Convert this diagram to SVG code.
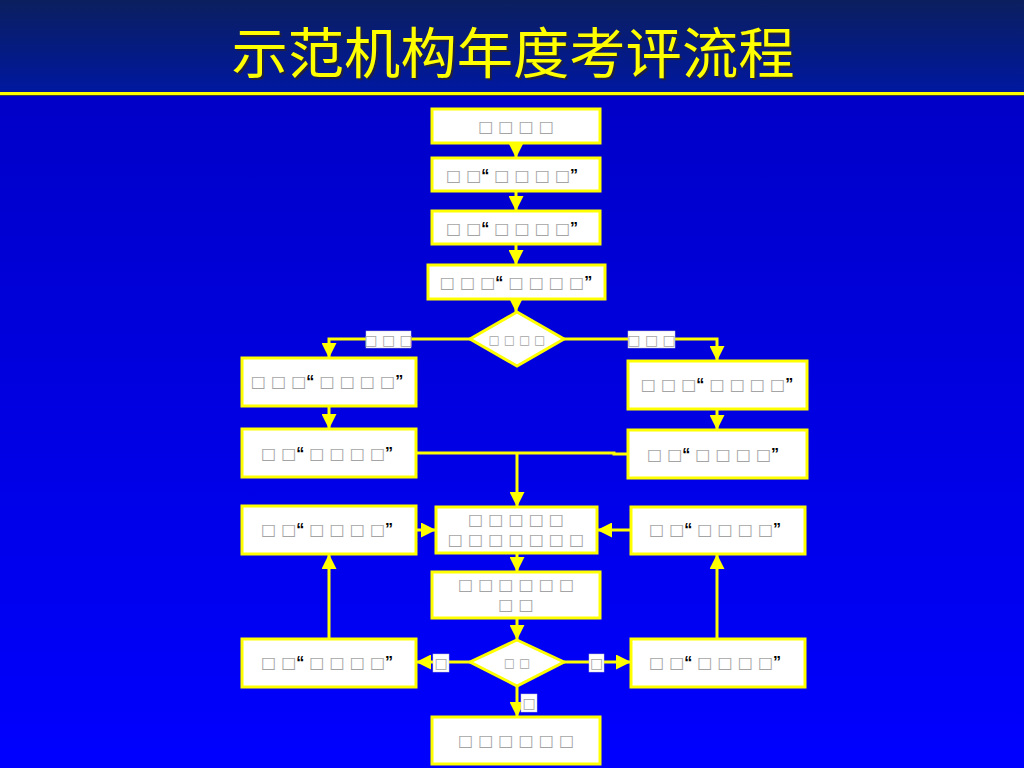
<svg xmlns="http://www.w3.org/2000/svg" width="1024" height="768" viewBox="0 0 1024 768">
<defs>
<linearGradient id="topbg" x1="0" y1="0" x2="0" y2="1">
<stop offset="0" stop-color="#0b1f5e"/>
<stop offset="1" stop-color="#0018a0"/>
</linearGradient>
<linearGradient id="mainbg" x1="0" y1="0" x2="0" y2="1">
<stop offset="0" stop-color="#0000c0"/>
<stop offset="1" stop-color="#0000ff"/>
</linearGradient>
<marker id="ah" markerUnits="userSpaceOnUse" markerWidth="15" markerHeight="15" refX="15" refY="7.5" orient="auto">
<path d="M0,0 L15,7.5 L0,15 z" fill="#ffff00"/>
</marker>
<style>
.box{fill:#ffffff;stroke:#ffff00;stroke-width:3}
.dia{fill:#ffffff;stroke:#ffff00;stroke-width:3}
.lbl{fill:#ffffff;stroke:#c8c8c8;stroke-width:0.5}
.t{font-family:"DejaVu Sans",sans-serif;font-size:16px;fill:#a4a4a4;text-anchor:middle}
.ts{font-family:"DejaVu Sans",sans-serif;font-size:12px;fill:#a4a4a4;text-anchor:middle}
.q{font-family:"Liberation Sans",sans-serif;font-weight:bold;fill:#000000}
.c{fill:none;stroke:#ffff00;stroke-width:3}
.title{font-family:"Noto Sans CJK SC",sans-serif;font-size:55px;fill:#ffff00;text-anchor:middle}
</style>
</defs>
<rect x="0" y="0" width="1024" height="768" fill="url(#mainbg)"/>
<rect x="0" y="0" width="1024" height="92" fill="url(#topbg)"/>
<rect x="0" y="92" width="1024" height="3" fill="#ffff00"/>
<rect x="0" y="95" width="1024" height="1" fill="#404040"/>
<g id="title">
<text class="title" x="515" y="75" style="fill:#202040" textLength="563" lengthAdjust="spacingAndGlyphs">示范机构年度考评流程</text>
<text class="title" x="513" y="73" textLength="563" lengthAdjust="spacingAndGlyphs">示范机构年度考评流程</text>
</g>

<g id="connectors">
<line class="c" x1="516" y1="143" x2="516" y2="158" marker-end="url(#ah)"/>
<line class="c" x1="516" y1="191" x2="516" y2="211" marker-end="url(#ah)"/>
<line class="c" x1="516" y1="244" x2="516" y2="265" marker-end="url(#ah)"/>
<line class="c" x1="516" y1="299" x2="516" y2="312" marker-end="url(#ah)"/>
<polyline class="c" points="470,339 329,339 329,358" marker-end="url(#ah)"/>
<polyline class="c" points="564,339 717,339 717,361" marker-end="url(#ah)"/>
<line class="c" x1="329" y1="406" x2="329" y2="429" marker-end="url(#ah)"/>
<line class="c" x1="717" y1="409" x2="717" y2="430" marker-end="url(#ah)"/>
<polyline class="c" points="416,453 614,453 614,454 628,454"/>
<line class="c" x1="517" y1="453" x2="517" y2="507" marker-end="url(#ah)"/>
<line class="c" x1="416" y1="530" x2="436" y2="530" marker-end="url(#ah)"/>
<line class="c" x1="631" y1="530" x2="597" y2="530" marker-end="url(#ah)"/>
<line class="c" x1="517" y1="553" x2="517" y2="572" marker-end="url(#ah)"/>
<line class="c" x1="517" y1="618" x2="517" y2="640" marker-end="url(#ah)"/>
<line class="c" x1="470" y1="662" x2="416" y2="662" marker-end="url(#ah)"/>
<line class="c" x1="564" y1="662" x2="631" y2="662" marker-end="url(#ah)"/>
<line class="c" x1="517" y1="686" x2="517" y2="717" marker-end="url(#ah)"/>
<line class="c" x1="329" y1="639" x2="329" y2="554" marker-end="url(#ah)"/>
<line class="c" x1="717" y1="639" x2="717" y2="554" marker-end="url(#ah)"/>
<g id="labels">
<rect class="lbl" x="366" y="331" width="45" height="17"/>
<text class="t" x="388.5" y="345" style="font-size:14px">□ □ □</text>
<rect class="lbl" x="628" y="331" width="47" height="17"/>
<text class="t" x="651.5" y="345" style="font-size:14px">□ □ □</text>
<rect class="lbl" x="433" y="654" width="16" height="18"/>
<text class="t" x="441" y="668" style="font-size:14px">□</text>
<rect class="lbl" x="589" y="654" width="15" height="18"/>
<text class="t" x="596.5" y="668" style="font-size:14px">□</text>
<rect class="lbl" x="521" y="694" width="16" height="18"/>
<text class="t" x="529" y="708" style="font-size:14px">□</text>
</g>
</g>

<g id="n1"><rect class="box" x="432" y="109" width="168" height="34"/><text class="t" x="516" y="132">□ □ □ □</text></g>
<g id="n2"><rect class="box" x="432" y="158" width="168" height="33"/><text class="t" x="512" y="181">□ □<tspan class="q">“</tspan> □ □ □ □<tspan class="q">”</tspan></text></g>
<g id="n3"><rect class="box" x="432" y="211" width="168" height="33"/><text class="t" x="512" y="234">□ □<tspan class="q">“</tspan> □ □ □ □<tspan class="q">”</tspan></text></g>
<g id="n4"><rect class="box" x="428" y="265" width="177" height="34"/><text class="t" x="516" y="288">□ □ □<tspan class="q">“</tspan> □ □ □ □<tspan class="q">”</tspan></text></g>
<g id="d1"><polygon class="dia" points="517,312 564,339 517,366 470,339"/><text class="ts" x="517" y="344">□ □ □ □</text></g>
<g id="la"><rect class="box" x="242" y="358" width="174" height="48"/><text class="t" x="327" y="387">□ □ □<tspan class="q">“</tspan> □ □ □ □<tspan class="q">”</tspan></text></g>
<g id="ra"><rect class="box" x="628" y="361" width="179" height="48"/><text class="t" x="717" y="390">□ □ □<tspan class="q">“</tspan> □ □ □ □<tspan class="q">”</tspan></text></g>
<g id="lb"><rect class="box" x="242" y="429" width="174" height="48"/><text class="t" x="327" y="459">□ □<tspan class="q">“</tspan> □ □ □ □<tspan class="q">”</tspan></text></g>
<g id="rb"><rect class="box" x="628" y="430" width="179" height="48"/><text class="t" x="713" y="460">□ □<tspan class="q">“</tspan> □ □ □ □<tspan class="q">”</tspan></text></g>
<g id="lc"><rect class="box" x="242" y="506" width="174" height="48"/><text class="t" x="327" y="535">□ □<tspan class="q">“</tspan> □ □ □ □<tspan class="q">”</tspan></text></g>
<g id="cc"><rect class="box" x="436" y="507" width="161" height="46"/><text class="t" x="516" y="525">□ □ □ □ □</text><text class="t" x="516" y="545">□ □ □ □ □ □ □</text></g>
<g id="rc"><rect class="box" x="631" y="507" width="174" height="47"/><text class="t" x="715" y="535">□ □<tspan class="q">“</tspan> □ □ □ □<tspan class="q">”</tspan></text></g>
<g id="cd"><rect class="box" x="432" y="572" width="168" height="46"/><text class="t" x="516" y="590">□ □ □ □ □ □</text><text class="t" x="516" y="610">□ □</text></g>
<g id="d2"><polygon class="dia" points="517,640 564,662 517,686 470,662"/><text class="ts" x="517" y="667">□ □</text></g>
<g id="ld"><rect class="box" x="242" y="639" width="174" height="48"/><text class="t" x="327" y="668">□ □<tspan class="q">“</tspan> □ □ □ □<tspan class="q">”</tspan></text></g>
<g id="rd"><rect class="box" x="631" y="639" width="174" height="48"/><text class="t" x="715" y="668">□ □<tspan class="q">“</tspan> □ □ □ □<tspan class="q">”</tspan></text></g>
<g id="ne"><rect class="box" x="432" y="717" width="168" height="47"/><text class="t" x="516" y="746">□ □ □ □ □ □</text></g>
</svg>
